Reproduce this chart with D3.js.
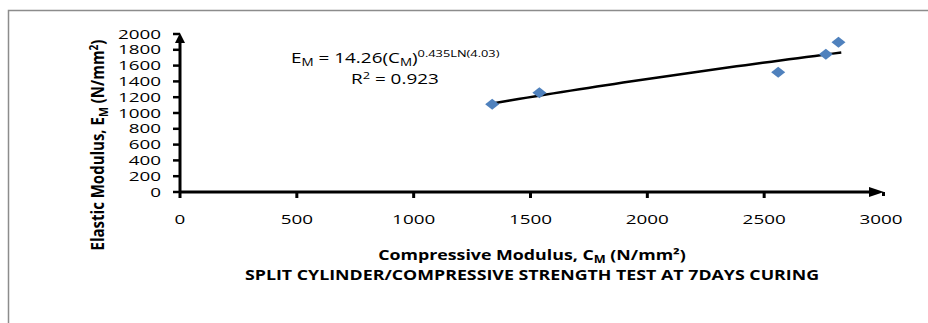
<!DOCTYPE html>
<html>
<head>
<meta charset="utf-8">
<script src="https://cdn.jsdelivr.net/npm/d3@7"></script>
<style>
  body { margin: 0; background: #fff; }
  text { font-family: "Open Sans", sans-serif; fill: #000; }
</style>
</head>
<body>
<script>
// data
var compressive = [1336, 1538, 2560, 2764, 2818];
var elastic = [1110, 1257, 1515, 1743, 1895];
var xTicks = [0, 500, 1000, 1500, 2000, 2500, 3000];
var yTicks = [0, 200, 400, 600, 800, 1000, 1200, 1400, 1600, 1800, 2000];

// power trendline shown on the chart: E = 14.26 * C^(0.435 ln 4.03)
var trendA = 14.26,
    trendB = 0.435 * Math.log(4.03);

var width = 928,
    height = 323,
    sx = 1.45,   // text in the picture is stretched sideways
    sxBold = 1.27;

var svg = d3.select("body")
    .append("svg")
    .attr("width", width)
    .attr("height", height);

//outer frame, only left and top edges are visible
svg.append("path")
    .attr("d", "M8.5," + height + "V10.5H" + width)
    .attr("fill", "none")
    .attr("stroke", "#8c8c8c")
    .attr("stroke-width", 1.5);

var x = d3.scaleLinear().domain([0, 3000]).range([180, 881]);
var y = d3.scaleLinear().domain([0, 2000]).range([192, 34]);

//stretched text helper
function label(g, px, py, anchor, s) {
    return g.append("text")
        .attr("transform", "translate(" + px + "," + py + ") scale(" + (s || sx) + ",1)")
        .attr("text-anchor", anchor);
}

//y axis ticks and labels
var yAxis = svg.append("g");
yAxis.selectAll("line")
    .data(yTicks)
    .enter()
    .append("line")
    .attr("x1", 173)
    .attr("x2", 180)
    .attr("y1", function(d){ return y(d); })
    .attr("y2", function(d){ return y(d); })
    .attr("stroke", "#000")
    .attr("stroke-width", 2.5);
yTicks.forEach(function(d){
    label(yAxis, 161, y(d) + 4.5, "end")
        .style("font-size", "13px")
        .text(d);
});

//x axis ticks and labels
var xAxis = svg.append("g");
xAxis.selectAll("line")
    .data(xTicks.slice(0, -1))
    .enter()
    .append("line")
    .attr("x1", function(d){ return x(d); })
    .attr("x2", function(d){ return x(d); })
    .attr("y1", 192)
    .attr("y2", 198)
    .attr("stroke", "#000")
    .attr("stroke-width", 3);
xTicks.forEach(function(d){
    label(xAxis, x(d), 224, "middle")
        .style("font-size", "13px")
        .text(d);
});

//axis lines with arrow heads
svg.append("line")
    .attr("x1", x(0)).attr("x2", x(3000) - 8)
    .attr("y1", y(0)).attr("y2", y(0))
    .attr("stroke", "#000").attr("stroke-width", 3);
svg.append("line")
    .attr("x1", x(0)).attr("x2", x(0))
    .attr("y1", y(0)).attr("y2", y(2000) + 6)
    .attr("stroke", "#000").attr("stroke-width", 3);
svg.append("path")
    .attr("d", "M" + (x(3000) + 3) + "," + y(0) + "l-15,-5v10z")
    .attr("fill", "#000");
svg.append("rect")
    .attr("x", x(3000) + 1).attr("y", y(0))
    .attr("width", 3).attr("height", 4)
    .attr("fill", "#000");
svg.append("path")
    .attr("d", "M" + x(0) + "," + (y(2000) - 1) + "l-5,10h10z")
    .attr("fill", "#000");

//trendline
var trendData = d3.range(0, 41).map(function(i){
    var c = d3.min(compressive) + i / 40 * (d3.max(compressive) + 12 - d3.min(compressive));
    return [c, trendA * Math.pow(c, trendB)];
});
svg.append("path")
    .datum(trendData)
    .attr("d", d3.line()
        .x(function(d){ return x(d[0]); })
        .y(function(d){ return y(d[1]); }))
    .attr("fill", "none")
    .attr("stroke", "#000")
    .attr("stroke-width", 2.5);

//diamond markers
svg.selectAll(".pt")
    .data(compressive)
    .enter()
    .append("path")
    .attr("class", "pt")
    .attr("d", "M0,-5.5L7,0L0,5.5L-7,0Z")
    .attr("transform", function(d, i){
        return "translate(" + x(d) + "," + y(elastic[i]) + ")";
    })
    .attr("fill", "#4f81bd");

//trend equation
var eq = label(svg, 291, 63, "start", 1.35).style("font-size", "14px");
eq.append("tspan").text("E");
eq.append("tspan").attr("dy", 3).style("font-size", "10px").text("M");
eq.append("tspan").attr("dy", -3).text(" = 14.26(C");
eq.append("tspan").attr("dy", 3).style("font-size", "10px").text("M");
eq.append("tspan").attr("dy", -3).text(")");
eq.append("tspan").attr("dy", -6).style("font-size", "9.5px").text("0.435LN(4.03)");

var r2 = label(svg, 351, 84, "start", 1.35).style("font-size", "14px");
r2.append("tspan").text("R");
r2.append("tspan").attr("dy", -5).style("font-size", "9.5px").text("2");
r2.append("tspan").attr("dy", 5).text(" = 0.923");

//axis titles
var xt = label(svg, 532, 260, "middle", sxBold)
    .style("font-size", "14px").style("font-weight", "bold");
xt.append("tspan").text("Compressive Modulus, C");
xt.append("tspan").attr("dy", 3).style("font-size", "10px").text("M");
xt.append("tspan").attr("dy", -3).text(" (N/mm²)");

label(svg, 532, 280, "middle", sxBold)
    .style("font-size", "14px").style("font-weight", "bold")
    .text("SPLIT CYLINDER/COMPRESSIVE STRENGTH TEST AT 7DAYS CURING");

var yt = svg.append("text")
    .attr("transform", "translate(104,145) rotate(-90) scale(1,1.22)")
    .attr("text-anchor", "middle")
    .style("font-size", "15px").style("font-weight", "bold");
yt.append("tspan").text("Elastic Modulus, E");
yt.append("tspan").attr("dy", 3).style("font-size", "10.5px").text("M");
yt.append("tspan").attr("dy", -3).text(" (N/mm");
yt.append("tspan").attr("dy", -5).style("font-size", "10px").text("2");
yt.append("tspan").attr("dy", 5).text(")");
</script>
</body>
</html>
